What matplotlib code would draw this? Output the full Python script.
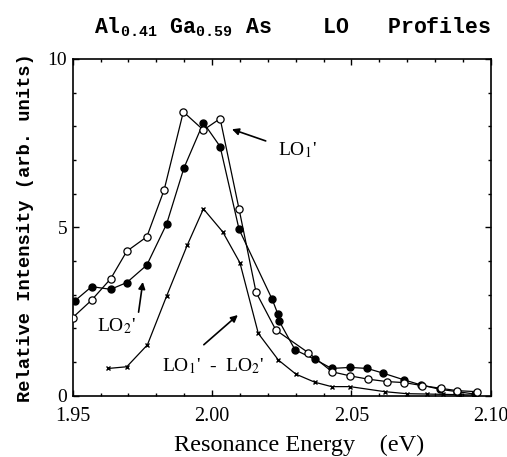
import numpy as np
import matplotlib
matplotlib.use('Agg')
import matplotlib.pyplot as plt

# LO1' (open circles)
lo1_x = [1.950, 1.9568, 1.9636, 1.9694, 1.9766, 1.9828, 1.9897, 1.9969, 2.0029, 2.0097,
         2.0158, 2.0229, 2.0345, 2.0431, 2.0495, 2.0561, 2.0627, 2.0689, 2.0755, 2.0820,
         2.0880, 2.0950]
lo1_y = [2.32, 2.84, 3.47, 4.29, 4.72, 6.11, 8.43, 7.89, 8.23, 5.54,
         3.07, 1.95, 1.28, 0.71, 0.59, 0.49, 0.42, 0.39, 0.30, 0.22,
         0.15, 0.12]

# LO2' (filled circles)
lo2_x = [1.9508, 1.9568, 1.9636, 1.9694, 1.9766, 1.9837, 1.9899, 1.9969, 2.0029, 2.0097,
         2.0216, 2.0236, 2.0240, 2.0298, 2.0369, 2.0429, 2.0495, 2.0557, 2.0614, 2.0689,
         2.0750, 2.0818, 2.0880, 2.0943]
lo2_y = [2.82, 3.24, 3.16, 3.36, 3.88, 5.10, 6.76, 8.11, 7.40, 4.94,
         2.86, 2.43, 2.23, 1.36, 1.08, 0.81, 0.84, 0.81, 0.67, 0.47,
         0.32, 0.19, 0.12, 0.05]

# LO1' - LO2' (crosses)
diff_x = [1.9628, 1.9694, 1.9768, 1.9837, 1.9911, 1.9969, 2.0038, 2.0100, 2.0166, 2.0238,
          2.0301, 2.0369, 2.0429, 2.0495, 2.0620, 2.0699, 2.0770, 2.0830, 2.0890, 2.0940]
diff_y = [0.81, 0.86, 1.51, 2.96, 4.47, 5.55, 4.87, 3.95, 1.85, 1.06,
          0.64, 0.40, 0.27, 0.27, 0.12, 0.06, 0.05, 0.04, 0.03, 0.02]

x_ticks = [1.95, 2.00, 2.05, 2.10]
x_ticklabels = ['1.95', '2.00', '2.05', '2.10']
y_ticks = [0, 5, 10]

mono = 'Liberation Mono'
times = 'Liberation Serif'
plt.rcParams['mathtext.fontset'] = 'custom'
plt.rcParams['mathtext.rm'] = 'Liberation Mono:bold'
plt.rcParams['mathtext.it'] = 'Liberation Mono:bold'
plt.rcParams['mathtext.bf'] = 'Liberation Mono:bold'

fig = plt.figure(figsize=(5.07, 4.57), dpi=100)
ax = fig.add_axes([0.1434, 0.1341, 0.8245, 0.7368])

lw = 0.9
ax.plot(lo1_x, lo1_y, '-o', color='black', lw=lw, ms=5.2, mfc='white', mec='black', mew=0.9, zorder=3)
ax.plot(lo2_x, lo2_y, '-o', color='black', lw=lw, ms=5, mfc='black', mec='black', zorder=2)
ax.plot(diff_x, diff_y, '-x', color='black', lw=lw, ms=3.5, mew=1.0, zorder=2)

ax.set_xlim(1.95, 2.10)
ax.set_ylim(0, 10)
ax.set_xticks(x_ticks)
ax.set_xticklabels(x_ticklabels)
ax.set_yticks(y_ticks)
ax.set_xticks(np.arange(1.95, 2.1001, 0.01), minor=True)
ax.set_yticks(np.arange(0, 10.01, 1), minor=True)
ax.tick_params(which='both', direction='in', top=True, right=True, width=1)
ax.tick_params(which='major', length=4)
ax.tick_params(axis='x', which='major', pad=8)
ax.tick_params(axis='y', which='major', pad=4)
ax.tick_params(which='minor', length=2.5)
for lab in ax.get_xticklabels():
    lab.set_family(times)
    lab.set_fontsize(14.5)
for lab in ax.get_yticklabels():
    lab.set_family(times)
    lab.set_fontsize(14)
for sp in ax.spines.values():
    sp.set_linewidth(1.2)

ax.set_xlabel('Resonance Energy    (eV)', family=times, fontsize=17.5)
ax.xaxis.set_label_coords(0.541, -0.115)
ax.set_ylabel('Relative Intensity (arb. units)', family=mono, fontweight='bold',
              fontsize=13.5, labelpad=10)

fig.text(0.577, 0.94, r'Al$_{0.41}$ Ga$_{0.59}$ As    LO   Profiles', family=mono,
         fontweight='bold', fontsize=15.5, ha='center', va='center', math_fontfamily='custom')

# annotations
ax.annotate('', xy=(2.0062, 7.94), xytext=(2.0202, 7.54),
            arrowprops=dict(arrowstyle='-|>', color='black', lw=1.2, mutation_scale=10))
ax.text(2.0237, 7.30, "LO$_1$'", family=times, fontsize=14, va='center', ha='left',
        math_fontfamily='stix')

ax.annotate('', xy=(1.9753, 3.46), xytext=(1.9735, 2.40),
            arrowprops=dict(arrowstyle='-|>', color='black', lw=1.2, mutation_scale=10))
ax.text(1.9586, 2.07, "LO$_2$'", family=times, fontsize=14, va='center', ha='left',
        math_fontfamily='stix')

ax.annotate('', xy=(2.0100, 2.45), xytext=(1.9963, 1.46),
            arrowprops=dict(arrowstyle='-|>', color='black', lw=1.2, mutation_scale=10))
ax.text(1.9819, 0.88, "LO$_1$'  -  LO$_2$'", family=times, fontsize=14, va='center', ha='left',
        math_fontfamily='stix')

fig.savefig('out.png', dpi=100)
